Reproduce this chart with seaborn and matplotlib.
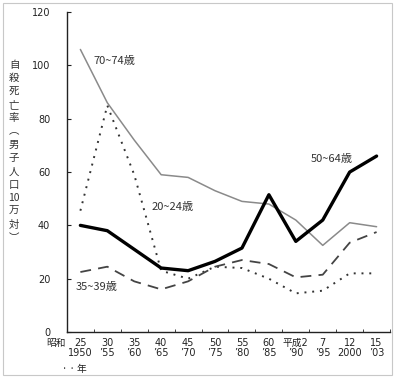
import numpy as np
import pandas as pd
import seaborn as sns
import matplotlib.pyplot as plt
from matplotlib.patches import Rectangle

sns.set_style("ticks")
plt.rcParams['font.family'] = ['Noto Sans CJK JP', 'DejaVu Sans']
tick_fam = ['DejaVu Sans', 'Noto Sans CJK JP']

# survey years (categorical x positions)
years = ['1950', '1955', '1960', '1965', '1970', '1975', '1980',
         '1985', '1990', '1995', '2000', '2003']
era_labels = ['25', '30', '35', '40', '45', '50', '55', '60',
              '平成2', '7', '12', '15']
west_labels = ['1950', '’55', '’60', '’65', '’70', '’75', '’80',
               '’85', '’90', '’95', '2000', '’03']

# male suicide rate per 100,000
r70_74 = [106, 86, 72, 59, 58, 53, 49, 48, 42, 32.5, 41, 39.5]
r50_64 = [40, 38, 31, 24, 23, 26.5, 31.5, 51.5, 34, 42, 60, 66]
r20_24 = [45.5, 85, 59, 23, 20, 24.5, 24, 20, 14.5, 15.5, 22, 22]
r35_39 = [22.5, 24.5, 19, 16, 19, 24.5, 27, 25.5, 20.5, 21.5, 33.5, 37.5]

xpos = np.arange(len(years))

fig = plt.figure(figsize=(3.96, 3.79), dpi=100)
ax = fig.add_axes([0.169, 0.124, 0.816, 0.844])

sns.lineplot(x=xpos, y=r70_74, ax=ax, color='#8a8a8a', lw=1.1)
sns.lineplot(x=xpos, y=r20_24, ax=ax, color='#333333', lw=1.4,
             linestyle=(0, (1, 3)))
sns.lineplot(x=xpos, y=r35_39, ax=ax, color='#444444', lw=1.3,
             linestyle=(0, (6, 4)))
sns.lineplot(x=xpos, y=r50_64, ax=ax, color='black', lw=2.4)

ax.set_xlim(-0.5, 11.5)
ax.set_ylim(0, 120)
sns.despine(ax=ax)
for s in ['left', 'bottom']:
    ax.spines[s].set_color('#222222')
    ax.spines[s].set_linewidth(1.0)

ax.set_yticks(range(0, 121, 20))
ax.tick_params(axis='y', direction='in', length=3, labelsize=7,
               colors='#222222', pad=12)
ax.set_xticks(xpos)
ax.set_xticklabels([f'{a}\n{b}' for a, b in zip(era_labels, west_labels)],
                   linespacing=1.1)
ax.tick_params(axis='x', which='major', length=0, labelsize=7,
               colors='#222222', pad=4)
ax.set_xticks(np.arange(0.5, 12, 1), minor=True)
ax.tick_params(axis='x', which='minor', direction='in', length=2.5,
               color='#222222')
for t in ax.get_xticklabels() + ax.get_yticklabels():
    t.set_family(tick_fam)

# series labels
lab = dict(fontsize=8, color='#333333', va='center')
ax.text(0.48, 101.5, '70~74歳', **lab)
ax.text(2.63, 47, '20~24歳', **lab)
ax.text(8.56, 65, '50~64歳', **lab)
ax.text(-0.19, 17, '35~39歳', **lab)

# era prefix for the first tick
fig.text(66 / 396, 1 - 343 / 379, '昭和', fontsize=7, color='#222222',
         va='center', ha='right')
fig.text(62 / 396, 1 - 369 / 379, '· · 年', fontsize=7, color='#222222',
         va='center', ha='left')

# vertical y-axis title
ychars = ['自', '殺', '死', '亡', '率', '︵', '男', '子', '人', '口',
          '10', '万', '対', '︶']
for i, ch in enumerate(ychars):
    fig.text(14 / 396, 1 - (65 + i * 13.3) / 379, ch, fontsize=7.5,
             color='#333333', ha='center', va='center')

# outer frame
fig.patches.append(Rectangle((3 / 396, 4 / 379), 389 / 396, 372 / 379,
                             transform=fig.transFigure, fill=False,
                             edgecolor='#c8c8c8', lw=0.8))

fig.savefig('out.png', dpi=100)
